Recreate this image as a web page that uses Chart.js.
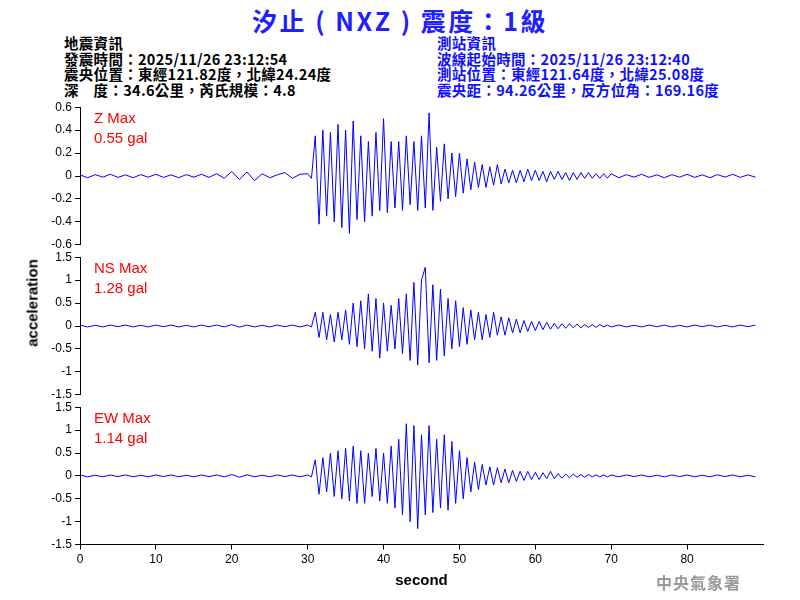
<!DOCTYPE html>
<html><head><meta charset="utf-8">
<script src="https://cdn.jsdelivr.net/npm/chart.js@4"></script>
<style>
body{margin:0;width:800px;height:600px;background:#fff;position:relative;font-family:"Liberation Sans",Arial,sans-serif;overflow:hidden}
.a{position:absolute;white-space:nowrap}
canvas{position:absolute}
.hd{font-weight:bold;font-size:14.5px;line-height:15.7px;letter-spacing:0.3px;font-family:"Noto Sans CJK TC","Liberation Sans",sans-serif}
.lbl{color:#ff0000;font-size:15px;line-height:20px}
</style></head><body>
<div class="a" style="left:0;width:800px;top:2px;text-align:center;color:#2020ff;font-weight:bold;font-size:25px;letter-spacing:2.5px;font-family:'Noto Sans CJK TC',sans-serif">汐止 ( NXZ ) 震度：1級</div>
<div class="a hd" style="left:64px;top:35px;color:#000">地震資訊<br>發震時間：2025/11/26 23:12:54<br>震央位置：東經121.82度，北緯24.24度<br>深　度：34.6公里，芮氏規模：4.8</div>
<div class="a hd" style="left:437px;top:35px;color:#1010ff">測站資訊<br>波線起始時間：2025/11/26 23:12:40<br>測站位置：東經121.64度，北緯25.08度<br>震央距：94.26公里，反方位角：169.16度</div>
<canvas id="c1" width="770" height="158"></canvas><canvas id="c2" width="770" height="158"></canvas><canvas id="c3" width="770" height="193"></canvas>
<div class="a lbl" style="left:94px;top:108px">Z Max<br>0.55 gal</div>
<div class="a lbl" style="left:94px;top:258px">NS Max<br>1.28 gal</div>
<div class="a lbl" style="left:94px;top:408px">EW Max<br>1.14 gal</div>
<div class="a" style="left:32px;top:303px;transform:translate(-50%,-50%) rotate(-90deg);font-weight:bold;font-size:15px">acceleration</div>
<div class="a" style="left:656px;top:570px;color:#999;font-weight:bold;font-size:16px;letter-spacing:1px;font-family:'Noto Sans CJK TC',serif">中央氣象署</div>
<script>
// quiet part 0..29 s (1 s step), event 30..70 s (0.5 s step), tail 71..89 s (1 s step)
const zPre = [0.01,-0.015,0.012,-0.01,0.015,-0.012,0.01,-0.015,0.012,-0.01,0.015,-0.012,0.01,-0.015,0.012,-0.01,0.015,-0.012,0.02,-0.02,0.04,-0.03,0.035,-0.04,0.02,-0.015,0.01,0.03,-0.02,0.015];
const zEvt = [0.02,-0.02,0.35,-0.42,0.4,-0.35,0.38,-0.4,0.45,-0.45,0.4,-0.5,0.48,-0.38,0.35,-0.4,0.3,-0.35,0.38,-0.3,0.5,-0.32,0.3,-0.28,0.3,-0.3,0.35,-0.25,0.3,-0.3,0.35,-0.28,0.55,-0.3,0.25,-0.22,0.28,-0.2,0.2,-0.18,0.2,-0.15,0.15,-0.12,0.12,-0.1,0.1,-0.1,0.08,-0.08,0.1,-0.07,0.06,-0.06,0.05,-0.06,0.05,-0.05,0.06,-0.04,0.05,-0.04,0.04,-0.05,0.04,-0.03,0.04,-0.03,0.03,-0.04,0.03,-0.03,0.03,-0.02,0.03,-0.02,0.02,-0.02,0.02,-0.02,0.02];
const zPost = [-0.015,0.012,-0.01,0.015,-0.012,0.01,-0.015,0.012,-0.01,0.015,-0.012,0.01,-0.015,0.012,-0.01,0.015,-0.012,0.01,-0.01];
const nsPre = [0.02,-0.02,0.015,-0.02,0.02,-0.015,0.02,-0.02,0.015,-0.02,0.02,-0.015,0.02,-0.02,0.015,-0.02,0.02,-0.015,0.02,-0.02,0.03,-0.025,0.02,-0.02,0.015,-0.02,0.02,-0.015,0.02,-0.02];
const nsEvt = [0.02,-0.02,0.3,-0.25,0.3,-0.3,0.25,-0.35,0.3,-0.3,0.35,-0.4,0.5,-0.45,0.55,-0.5,0.7,-0.55,0.6,-0.7,0.5,-0.55,0.45,-0.5,0.6,-0.6,0.7,-0.75,0.95,-0.85,1.0,1.28,-0.8,0.9,-0.75,0.8,-0.65,0.6,-0.5,0.55,-0.45,0.4,-0.4,0.35,-0.3,0.3,-0.3,0.25,-0.25,0.3,-0.2,0.2,-0.2,0.18,-0.15,0.15,-0.15,0.12,-0.12,0.1,-0.1,0.1,-0.08,0.08,-0.07,0.06,-0.06,0.05,-0.05,0.05,-0.04,0.04,-0.04,0.03,-0.03,0.03,-0.03,0.03,-0.02,0.02,-0.02];
const nsPost = [0.02,-0.02,0.015,-0.02,0.02,-0.015,0.02,-0.02,0.015,-0.02,0.02,-0.015,0.02,-0.02,0.015,-0.02,0.02,-0.015,0.02];
const ewPre = [0.02,-0.02,0.015,-0.02,0.02,-0.015,0.02,-0.02,0.015,-0.02,0.02,-0.015,0.02,-0.02,0.015,-0.02,0.02,-0.015,0.02,-0.02,0.03,-0.03,0.025,-0.02,0.015,-0.02,0.02,-0.015,0.02,-0.02];
const ewEvt = [0.02,-0.02,0.35,-0.4,0.4,-0.35,0.5,-0.45,0.55,-0.5,0.6,-0.55,0.65,-0.6,0.55,-0.6,0.5,-0.45,0.6,-0.55,0.5,-0.6,0.65,-0.7,0.8,-0.85,1.14,-1.0,1.1,-1.15,0.9,-0.85,1.1,-0.8,0.8,-0.7,0.9,-0.75,0.75,-0.6,0.55,-0.5,0.4,-0.35,0.3,-0.3,0.25,-0.2,0.2,-0.2,0.18,-0.15,0.15,-0.15,0.12,-0.12,0.1,-0.1,0.1,-0.08,0.08,-0.08,0.07,-0.06,0.1,-0.06,0.05,-0.05,0.04,-0.04,0.04,-0.03,0.03,-0.03,0.03,-0.02,0.02,-0.02,0.02,-0.02,0.02];
const ewPost = [-0.02,0.02,-0.015,0.02,-0.02,0.015,-0.02,0.02,-0.015,0.02,-0.02,0.015,-0.02,0.02,-0.015,0.02,-0.02,0.015,-0.02];
const xTicks = [0,10,20,30,40,50,60,70,80];

function build(pre, evt, post) {
  const pts = [];
  pre.forEach((v, i) => pts.push({ x: i, y: v }));
  evt.forEach((v, i) => pts.push({ x: 30 + i * 0.5, y: v }));
  post.forEach((v, i) => pts.push({ x: 71 + i, y: v }));
  return pts;
}

const tickFont = { family: "Liberation Sans", size: 12 };

function makeChart(id, top, pts, lim, step, showX) {
  const cv = document.getElementById(id);
  cv.style.left = "0px"; cv.style.top = top + "px";
  new Chart(cv, {
    type: "line",
    data: { datasets: [{ data: pts, borderColor: "#0000ff", borderWidth: 1, pointRadius: 0, tension: 0 }] },
    options: {
      responsive: false, animation: false, devicePixelRatio: 1,
      layout: { padding: { top: 0, right: 7, bottom: 0, left: 0 } },
      plugins: { legend: { display: false }, tooltip: { enabled: false } },
      scales: {
        x: {
          type: "linear", min: 0, max: 90, display: showX,
          afterBuildTicks: s => { s.ticks = xTicks.map(v => ({ value: v })); },
          ticks: { color: "#000", font: tickFont },
          grid: { drawOnChartArea: false, tickLength: 5, color: "#000" },
          border: { color: "#000" },
          title: { display: showX, text: "second", color: "#000", padding: { top: 2, bottom: 0 }, font: { family: "Liberation Sans", size: 15, weight: "bold" } }
        },
        y: {
          min: -lim, max: lim,
          ticks: { stepSize: step, color: "#000", font: tickFont, callback: v => String(Math.round(v * 10) / 10) },
          grid: { drawOnChartArea: false, tickLength: 5, color: "#000" },
          border: { color: "#000" },
          afterFit: s => { s.width = 80; }
        }
      }
    }
  });
}

makeChart("c1", 97, build(zPre, zEvt, zPost), 0.6, 0.2, false);
makeChart("c2", 247, build(nsPre, nsEvt, nsPost), 1.5, 0.5, false);
makeChart("c3", 397, build(ewPre, ewEvt, ewPost), 1.5, 0.5, true);
</script>
</body></html>
